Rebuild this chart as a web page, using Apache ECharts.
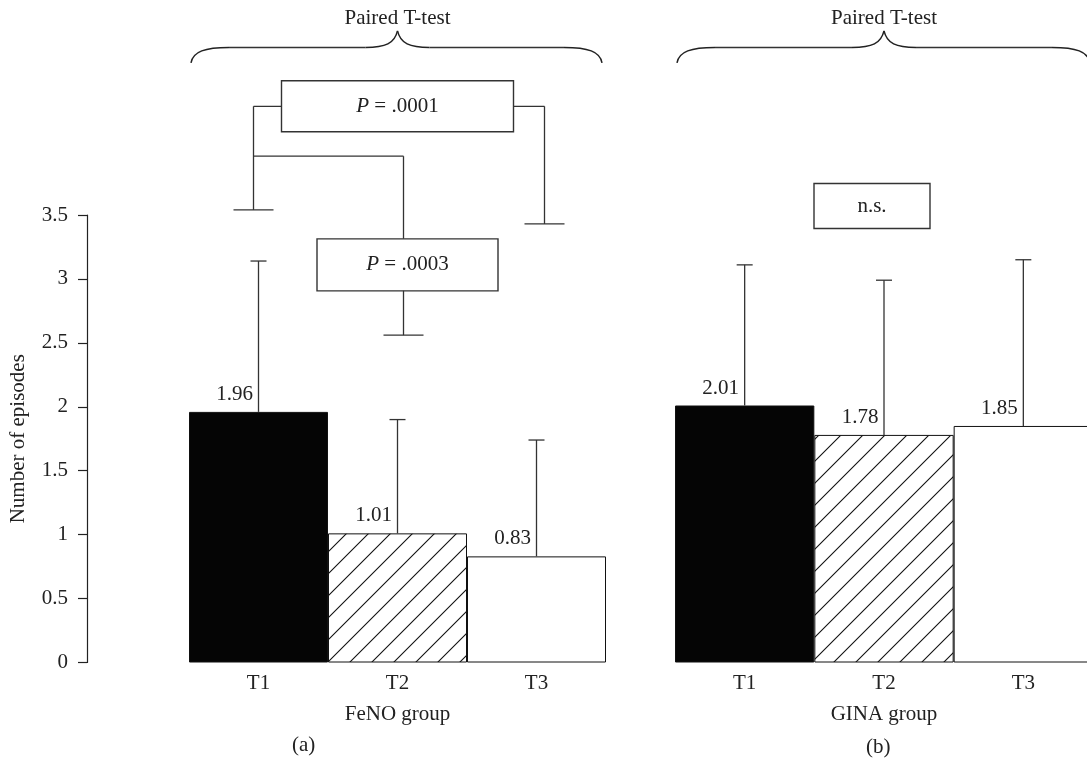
<!DOCTYPE html>
<html><head><meta charset="utf-8">
<script src="https://cdn.jsdelivr.net/npm/echarts@6/dist/echarts.min.js"></script>
<style>html,body{margin:0;padding:0;background:#fff}#c{width:1087px;height:765px}</style>
</head><body><div id="c"></div>
<script>
// ---- data ----
const categories = ['T1', 'T2', 'T3'];
const fenoMeans = [1.96, 1.01, 0.83];
const fenoSD = [1.18, 0.89, 0.91];
const ginaMeans = [2.01, 1.78, 1.85];
const ginaSD = [1.10, 1.21, 1.30];
const yTicks = [0, 0.5, 1, 1.5, 2, 2.5, 3, 3.5];
const groupNames = ['FeNO group', 'GINA group'];
const panelLabels = ['(a)', '(b)'];
const testTitle = 'Paired T-test';
const pLabels = ['.0001', '.0003'];
const nsLabel = 'n.s.';
// annotation levels (in axis units)
const braceLevels = [4.69, 4.81, 4.94, 5.04];      // end, bar, tip, title
const wideBracket = [3.54, 3.43, 4.35];            // T1 cap, T3 cap, top level
const narrowBracket = [2.56, 3.96, 3.11];          // T2 cap, top level, box level
const nsLevel = [3.57];

// ---- style ----
const FONT = 'Liberation Serif, Times New Roman, serif';
const FS = 21;
const INK = '#222';
const LINE = '#333';

function hatchPattern() {
  const s = 22, c = document.createElement('canvas');
  c.width = s; c.height = s;
  const g = c.getContext('2d');
  g.fillStyle = '#fff'; g.fillRect(0, 0, s, s);
  g.strokeStyle = '#111'; g.lineWidth = 1.1;
  g.beginPath();
  g.moveTo(-3, s + 3); g.lineTo(s + 3, -3);
  g.moveTo(-3, 3); g.lineTo(3, -3);
  g.moveTo(s - 3, s + 3); g.lineTo(s + 3, s - 3);
  g.stroke();
  return c;
}
const hatch = { image: hatchPattern(), repeat: 'repeat' };
const fills = ['#050505', hatch, '#ffffff'];

function barSeries(means, idx) {
  return {
    type: 'bar', xAxisIndex: idx, yAxisIndex: idx, barCategoryGap: 0,
    data: means.map((v, i) => ({ value: v, itemStyle: { color: fills[i], borderColor: '#111', borderWidth: 1 } })),
    label: { show: true, position: 'top', distance: 7, offset: [-24, 0],
      formatter: p => p.value.toFixed(2), fontFamily: FONT, fontSize: FS, color: INK },
    z: 2
  };
}

function errorSeries(means, sds, idx) {
  return {
    type: 'custom', xAxisIndex: idx, yAxisIndex: idx, z: 3,
    data: means.map((m, i) => [i, m, sds[i]]),
    encode: { x: 0, y: 1 },
    renderItem: (params, api) => {
      const i = api.value(0), m = api.value(1), s = api.value(2);
      const b = api.coord([i, m]), t = api.coord([i, m + s]);
      return { type: 'group', children: [
        { type: 'line', shape: { x1: b[0], y1: b[1], x2: t[0], y2: t[1] }, style: { stroke: LINE, lineWidth: 1.3 } },
        { type: 'line', shape: { x1: t[0] - 8, y1: t[1], x2: t[0] + 8, y2: t[1] }, style: { stroke: LINE, lineWidth: 1.3 } }
      ] };
    }
  };
}

function ln(x1, y1, x2, y2) {
  return { type: 'line', shape: { x1, y1, x2, y2 }, style: { stroke: LINE, lineWidth: 1.3 } };
}
function bz(x1, y1, c1x, c1y, c2x, c2y, x2, y2) {
  return { type: 'bezierCurve', shape: { x1, y1, cpx1: c1x, cpy1: c1y, cpx2: c2x, cpy2: c2y, x2, y2 },
    style: { stroke: '#222', lineWidth: 1.5, fill: null } };
}
function boxed(cx, cy, w, h, text) {
  return [
    { type: 'rect', shape: { x: cx - w / 2, y: cy - h / 2, width: w, height: h }, style: { fill: '#fff', stroke: LINE, lineWidth: 1.4 } },
    { type: 'text', style: { text, x: cx, y: cy, align: 'center', verticalAlign: 'middle', fontFamily: FONT, fontSize: FS, fill: INK,
      rich: { i: { fontStyle: 'italic', fontFamily: FONT, fontSize: FS, fill: INK } } } }
  ];
}
function brace(api, rightInset) {
  const bw = api.size([1, 0])[0];
  const xl = api.coord([0, 0])[0] - bw / 2 + 2;
  const xr = api.coord([2, 0])[0] + bw / 2 - rightInset;
  const xm = api.coord([1, 0])[0];
  const y = v => api.coord([0, v])[1];
  const yE = y(braceLevels[0]), yB = y(braceLevels[1]), yT = y(braceLevels[2]);
  return [
    bz(xl, yE, xl + 2, yB + 4, xl + 14, yB, xl + 38, yB),
    ln(xl + 38, yB, xm - 32, yB),
    bz(xm - 32, yB, xm - 12, yB, xm - 3, yB - 4, xm, yT),
    bz(xm, yT, xm + 3, yB - 4, xm + 12, yB, xm + 32, yB),
    ln(xm + 32, yB, xr - 38, yB),
    bz(xr - 38, yB, xr - 14, yB, xr - 2, yB + 4, xr, yE),
    { type: 'text', style: { text: testTitle, x: xm, y: y(braceLevels[3]), align: 'center', verticalAlign: 'middle',
      fontFamily: FONT, fontSize: FS, fill: INK } }
  ];
}

const annotA = {
  type: 'custom', xAxisIndex: 0, yAxisIndex: 0, z: 5, silent: true,
  data: [[0, 0]], encode: { x: 0, y: 1 },
  renderItem: (params, api) => {
    const x = i => api.coord([i, 0])[0];
    const y = v => api.coord([0, v])[1];
    const xL = x(0) - 5, xR = x(2) + 8, xM = x(1) + 6;
    const yTop = y(wideBracket[2]), yMid = y(narrowBracket[1]);
    const ch = [].concat(brace(api, 4));
    ch.push(ln(xL, yTop, xR, yTop));
    ch.push(ln(xL, yTop, xL, y(wideBracket[0])));
    ch.push(ln(xL - 20, y(wideBracket[0]), xL + 20, y(wideBracket[0])));
    ch.push(ln(xR, yTop, xR, y(wideBracket[1])));
    ch.push(ln(xR - 20, y(wideBracket[1]), xR + 20, y(wideBracket[1])));
    ch.push(ln(xL, yMid, xM, yMid));
    ch.push(ln(xM, yMid, xM, y(narrowBracket[0])));
    ch.push(ln(xM - 20, y(narrowBracket[0]), xM + 20, y(narrowBracket[0])));
    boxed(x(1), yTop, 232, 51, '{i|P} = ' + pLabels[0]).forEach(e => ch.push(e));
    boxed(x(1) + 10, y(narrowBracket[2]), 181, 52, '{i|P} = ' + pLabels[1]).forEach(e => ch.push(e));
    return { type: 'group', children: ch };
  }
};
const annotB = {
  type: 'custom', xAxisIndex: 1, yAxisIndex: 1, z: 5, silent: true,
  data: [[0, 0]], encode: { x: 0, y: 1 },
  renderItem: (params, api) => {
    const ch = [].concat(brace(api, 3));
    const c = api.coord([1, nsLevel[0]]);
    boxed(c[0] - 12, c[1], 116, 45, nsLabel).forEach(e => ch.push(e));
    return { type: 'group', children: ch };
  }
};

function xAxis(idx) {
  return {
    type: 'category', gridIndex: idx, data: categories,
    axisLine: { show: false }, axisTick: { show: false },
    axisLabel: { fontFamily: FONT, fontSize: FS, color: INK, margin: 10 },
    name: groupNames[idx], nameLocation: 'middle', nameGap: 41,
    nameTextStyle: { fontFamily: FONT, fontSize: FS, color: INK }
  };
}
function yAxis(idx) {
  return {
    type: 'value', gridIndex: idx, min: 0, max: yTicks[yTicks.length - 1], interval: yTicks[1] - yTicks[0],
    show: idx === 0, offset: 102,
    axisLine: { show: true, lineStyle: { color: INK, width: 1.2 } },
    axisTick: { show: true, length: 9, lineStyle: { color: INK, width: 1.2 } },
    axisLabel: { fontFamily: FONT, fontSize: FS, color: INK, margin: 19 },
    splitLine: { show: false },
    name: 'Number of episodes', nameLocation: 'middle', nameRotate: 90, nameGap: 58,
    nameTextStyle: { fontFamily: FONT, fontSize: FS, color: INK }
  };
}

const chart = echarts.init(document.getElementById('c'), null, { renderer: 'canvas' });
chart.setOption({
  backgroundColor: '#fff',
  animation: false,
  grid: [
    { left: 189, top: 215, width: 417, height: 447.5, outerBoundsMode: 'none', containLabel: false },
    { left: 675, top: 215, width: 418, height: 447.5, outerBoundsMode: 'none', containLabel: false }
  ],
  xAxis: [xAxis(0), xAxis(1)],
  yAxis: [yAxis(0), yAxis(1)],
  graphic: [
    { type: 'text', left: 292, top: 735, style: { text: panelLabels[0], fontFamily: FONT, fontSize: FS, fill: INK } },
    { type: 'text', left: 866, top: 737, style: { text: panelLabels[1], fontFamily: FONT, fontSize: FS, fill: INK } }
  ],
  series: [
    barSeries(fenoMeans, 0), errorSeries(fenoMeans, fenoSD, 0),
    barSeries(ginaMeans, 1), errorSeries(ginaMeans, ginaSD, 1),
    annotA, annotB
  ]
});
</script></body></html>
